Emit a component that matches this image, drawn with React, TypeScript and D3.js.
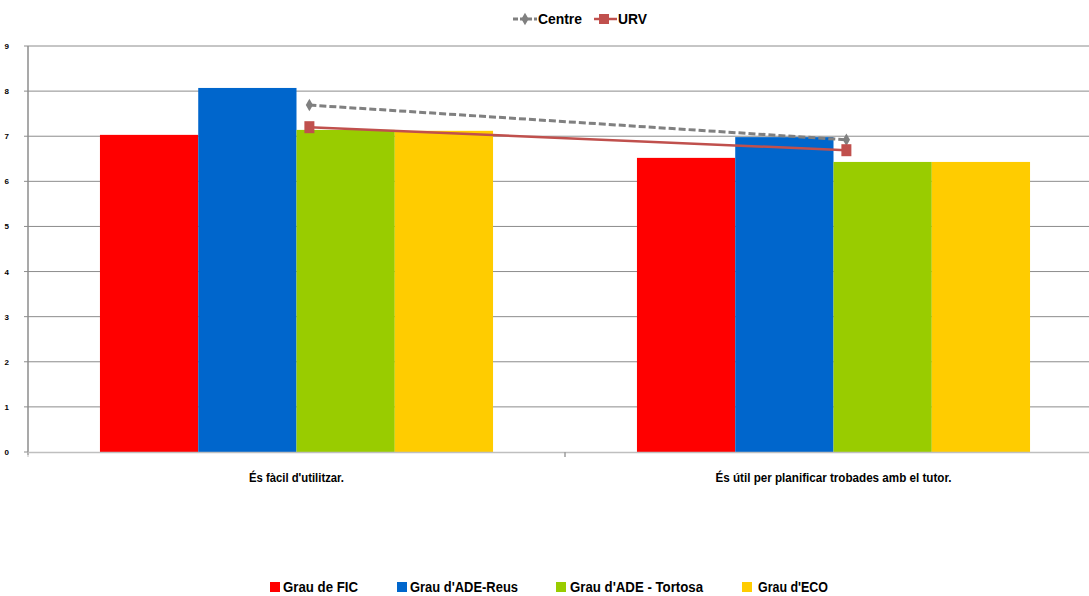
import React from "react";
import * as d3 from "d3";

const categories = ["És fàcil d'utilitzar.", "És útil per planificar trobades amb el tutor."];
const seriesNames = ["Grau de FIC", "Grau d'ADE-Reus", "Grau d'ADE - Tortosa", "Grau d'ECO"];
const seriesColors = ["#FF0000", "#0066CC", "#99CC00", "#FFCC00"];
const barValues = [
  [7.03, 6.52],
  [8.07, 6.98],
  [7.14, 6.43],
  [7.12, 6.43],
];
const centreValues = [7.69, 6.92];
const urvValues = [7.2, 6.69];
const yTicks = [0, 1, 2, 3, 4, 5, 6, 7, 8, 9];

const W = 1089;
const H = 596;
const FONT = "'Liberation Sans Narrow', 'Arial Narrow', 'Liberation Sans', Arial, sans-serif";

export default function App() {
  const y = d3.scaleLinear().domain([0, 9]).range([452, 46]);
  const x = d3.scaleBand<string>().domain(categories).range([28, 1102]).paddingInner(0).paddingOuter(0);
  const bw = x.bandwidth();
  const xi = d3.scaleBand<string>().domain(seriesNames).range([bw * 0.134, bw * 0.866]).padding(0);
  const lineX = (c: string) => (x(c) as number) + bw * 0.524;

  const line = d3
    .line<number>()
    .x((_, i) => lineX(categories[i]))
    .y((d) => y(d));

  const diamond = d3.symbol().type(d3.symbolDiamond).size(45)();

  const bottomLegend = [
    { sx: 270, tx: 283, w: 75 },
    { sx: 397, tx: 410, w: 108 },
    { sx: 556, tx: 570, w: 133 },
    { sx: 742, tx: 758, w: 70 },
  ];

  return (
    <svg width={W} height={H} style={{ position: "absolute", left: 0, top: 0, background: "#fff" }}>
      {/* gridlines */}
      {yTicks.map((t) => (
        <g key={t}>
          {t > 0 && <line x1={28} x2={W} y1={y(t)} y2={y(t)} stroke="#8c8c8c" strokeWidth={1} />}
          <line x1={24} x2={28} y1={y(t)} y2={y(t)} stroke="#8c8c8c" strokeWidth={1} />
          <text x={9} y={y(t) + 3} fontSize={8} fontWeight="bold" textAnchor="end" fontFamily={FONT} fill="#000">
            {t}
          </text>
        </g>
      ))}
      {/* bars */}
      {seriesNames.map((s, si) =>
        categories.map((c, ci) => (
          <rect
            key={s + c}
            x={(x(c) as number) + (xi(s) as number)}
            y={y(barValues[si][ci])}
            width={xi.bandwidth()}
            height={y(0) - y(barValues[si][ci])}
            fill={seriesColors[si]}
          />
        ))
      )}
      {/* axes */}
      <line x1={28} x2={28} y1={46} y2={455} stroke="#8c8c8c" strokeWidth={1.5} />
      <line x1={28} x2={W} y1={452.5} y2={452.5} stroke="#bfbfbf" strokeWidth={1.5} />
      {categories.map((c, i) => (
        <line key={c} x1={(x(c) as number) + (i > 0 ? 0 : 0)} x2={x(c) as number} y1={452} y2={457} stroke="#bfbfbf" strokeWidth={1} />
      ))}
      <line x1={565} x2={565} y1={452} y2={457} stroke="#8c8c8c" strokeWidth={1} />
      {/* category labels */}
      {categories.map((c, i) => (
        <text
          key={c}
          x={(x(c) as number) + bw / 2}
          y={482}
          fontSize={12}
          fontWeight="bold"
          textAnchor="middle"
          fontFamily={FONT}
          textLength={i === 0 ? 95 : 236}
          lengthAdjust="spacingAndGlyphs"
        >
          {c}
        </text>
      ))}
      {/* lines */}
      <path d={line(centreValues) || ""} fill="none" stroke="#808080" strokeWidth={3} strokeDasharray="7,3" />
      {centreValues.map((v, i) => (
        <path key={i} d={diamond || ""} transform={`translate(${lineX(categories[i])},${y(v)})`} fill="#808080" />
      ))}
      <path d={line(urvValues) || ""} fill="none" stroke="#C0504D" strokeWidth={2.5} />
      {urvValues.map((v, i) => (
        <rect key={i} x={lineX(categories[i]) - 5} y={y(v) - 6} width={10} height={12} fill="#C0504D" />
      ))}
      {/* top legend */}
      <line x1={513} x2={537} y1={19} y2={19} stroke="#808080" strokeWidth={3} strokeDasharray="5,2" />
      <path d={diamond || ""} transform="translate(525,19)" fill="#808080" />
      <text x={538} y={24} fontSize={14} fontWeight="bold" fontFamily={FONT} textLength={44} lengthAdjust="spacingAndGlyphs">
        Centre
      </text>
      <line x1={594} x2={617} y1={19} y2={19} stroke="#C0504D" strokeWidth={2.5} />
      <rect x={599} y={14} width={10} height={10} fill="#C0504D" />
      <text x={618} y={24} fontSize={14} fontWeight="bold" fontFamily={FONT} textLength={29} lengthAdjust="spacingAndGlyphs">
        URV
      </text>
      {/* bottom legend */}
      {seriesNames.map((s, i) => (
        <g key={s}>
          <rect x={bottomLegend[i].sx} y={582} width={10} height={10} fill={seriesColors[i]} />
          <text
            x={bottomLegend[i].tx}
            y={592}
            fontSize={14}
            fontWeight="bold"
            fontFamily={FONT}
            textLength={bottomLegend[i].w}
            lengthAdjust="spacingAndGlyphs"
          >
            {s}
          </text>
        </g>
      ))}
    </svg>
  );
}
